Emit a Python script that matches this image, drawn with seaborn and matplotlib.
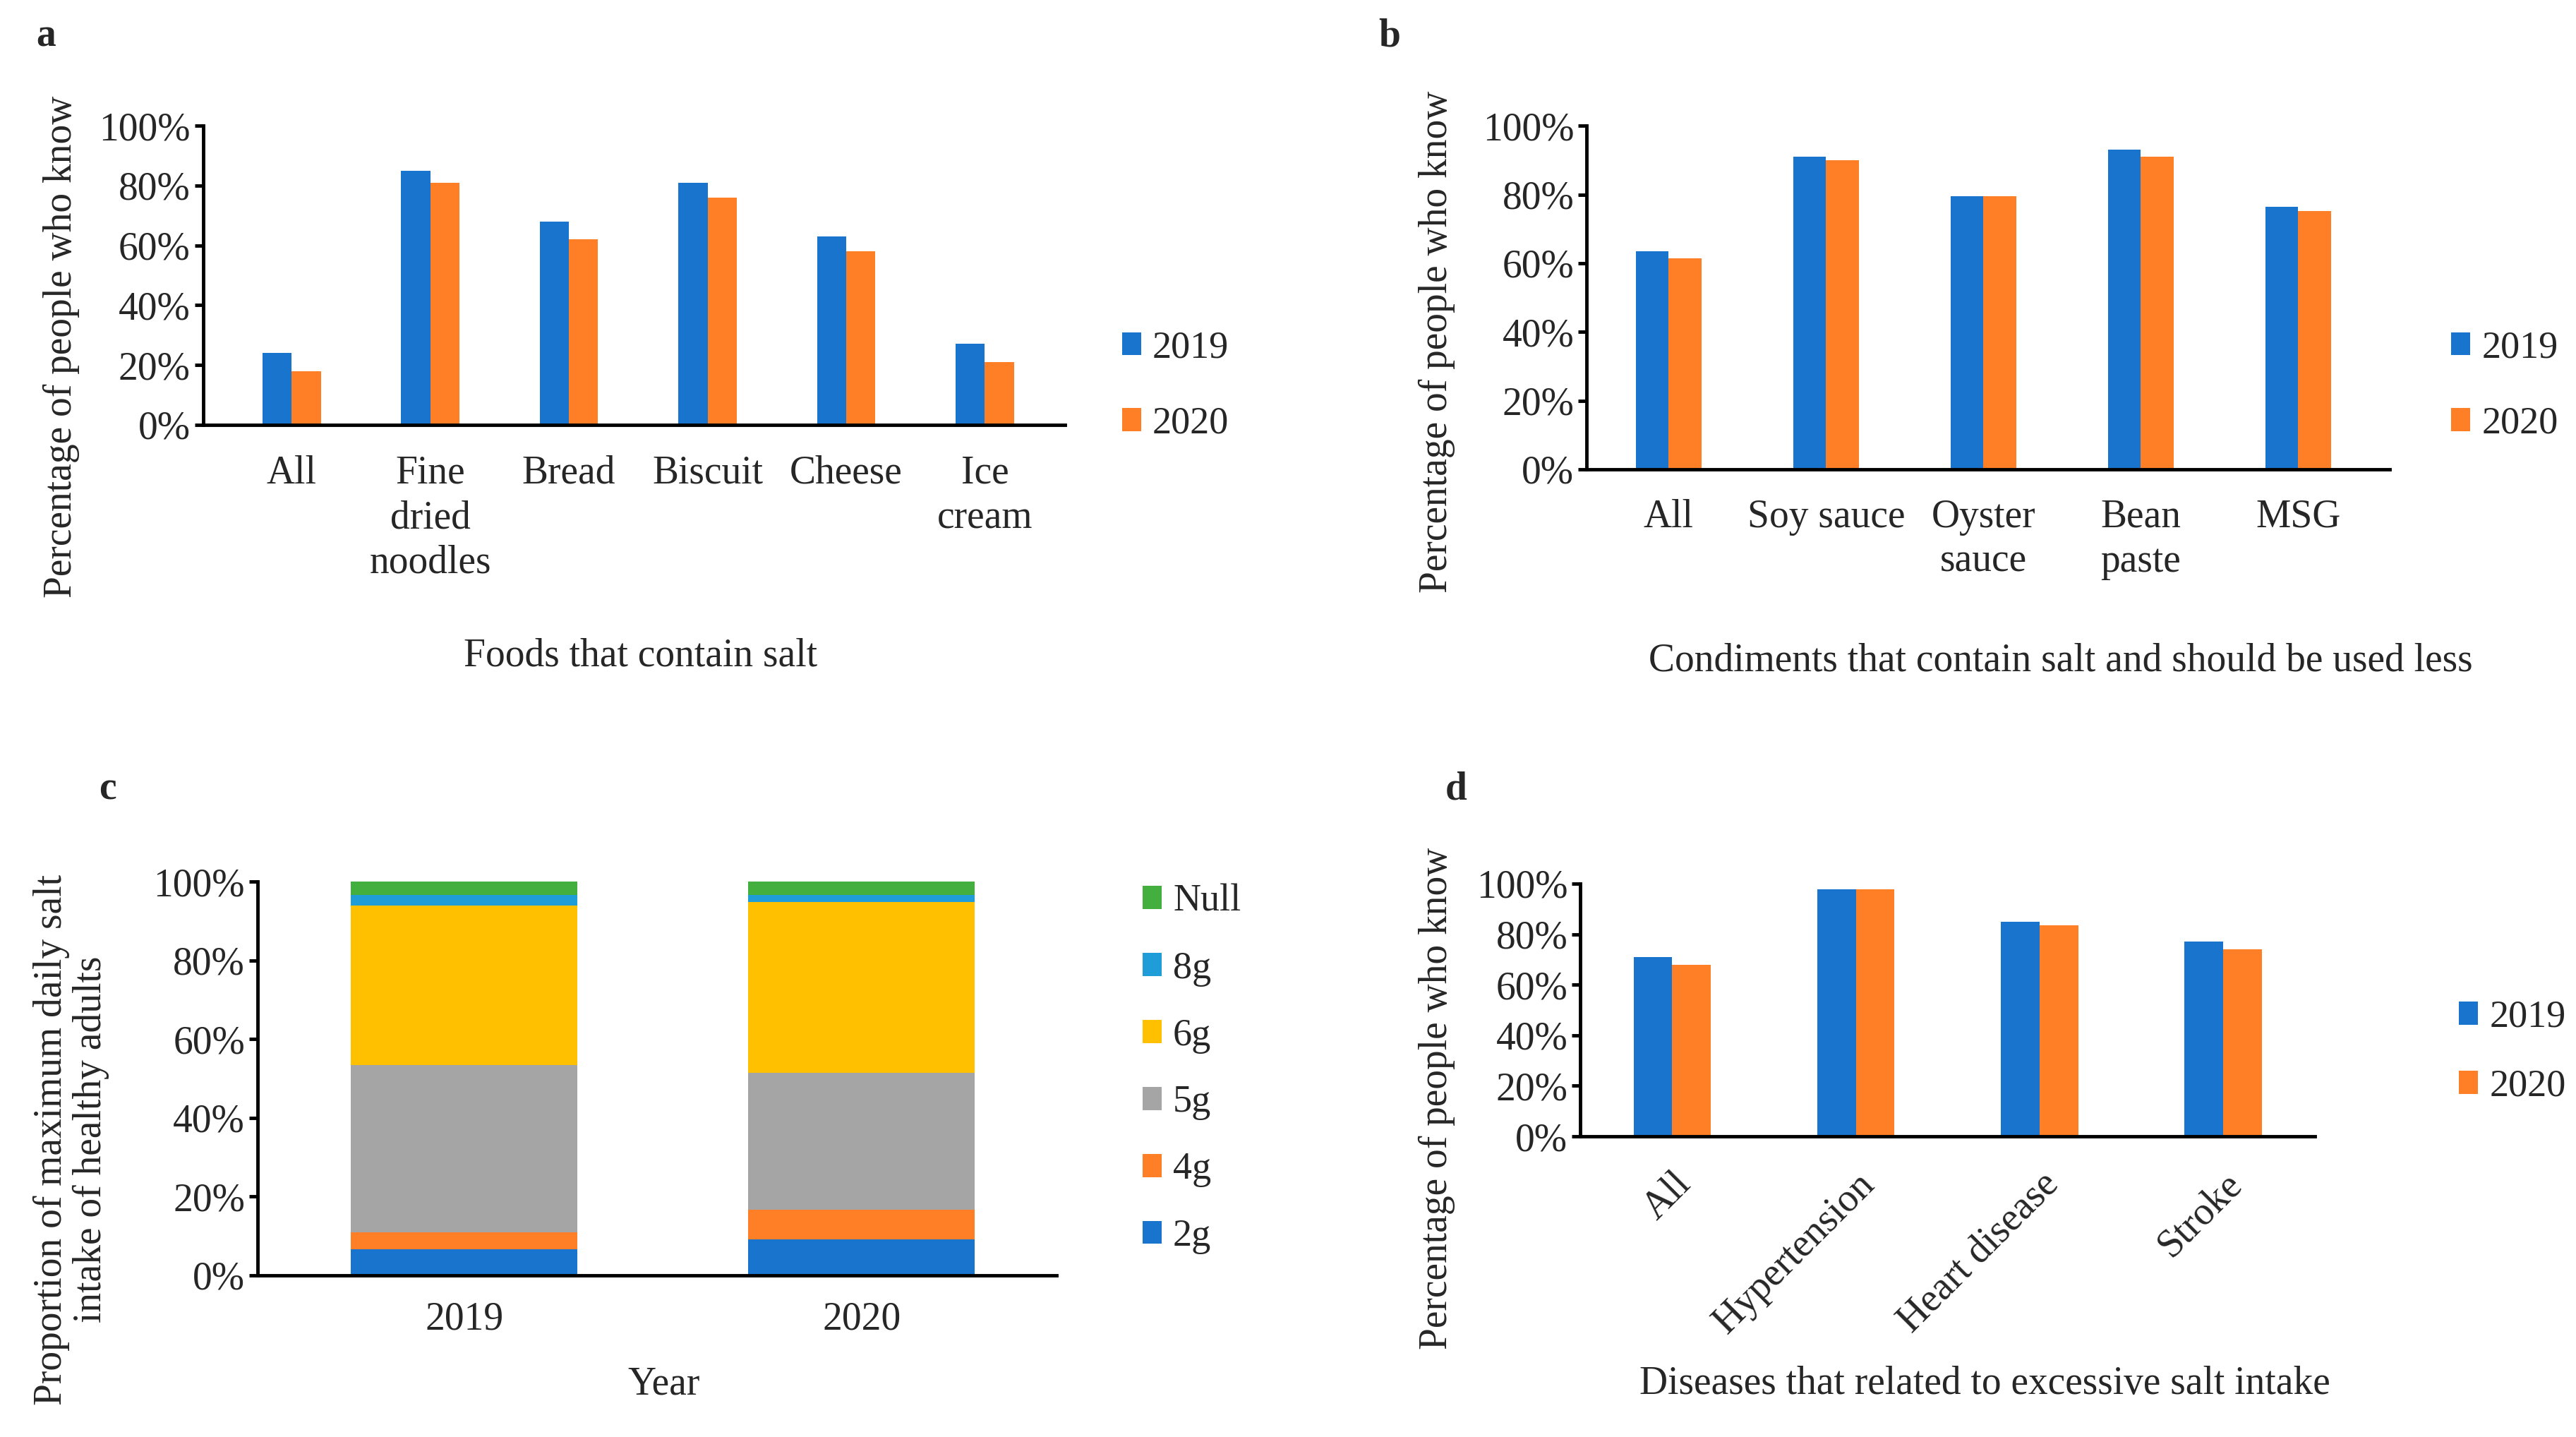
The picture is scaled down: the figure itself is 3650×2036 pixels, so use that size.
import matplotlib
matplotlib.use("Agg")
import matplotlib.pyplot as plt
from matplotlib.patches import Patch
import seaborn as sns
import numpy as np
import pandas as pd

sns.set_theme(style="white")
plt.rcParams['font.family'] = ['Liberation Serif', 'DejaVu Serif']

# -------------------------------
# Data
# -------------------------------
years = ["2019", "2020"]

foods = ["All", "Fine\ndried\nnoodles", "Bread", "Biscuit", "Cheese", "Ice\ncream"]
foods_2019 = [0.24, 0.85, 0.68, 0.81, 0.63, 0.27]
foods_2020 = [0.18, 0.81, 0.62, 0.76, 0.58, 0.21]

condiments = ["All", "Soy sauce", "Oyster\nsauce", "Bean\npaste", "MSG"]
cond_2019 = [0.635, 0.91, 0.795, 0.93, 0.765]
cond_2020 = [0.615, 0.90, 0.795, 0.91, 0.752]

salt_levels = ["2g", "4g", "5g", "6g", "8g", "Null"]
salt_2019 = [0.066, 0.044, 0.425, 0.404, 0.027, 0.034]
salt_2020 = [0.092, 0.074, 0.349, 0.433, 0.018, 0.034]

diseases = ["All", "Hypertension", "Heart disease", "Stroke"]
dis_2019 = [0.71, 0.977, 0.85, 0.77]
dis_2020 = [0.68, 0.977, 0.835, 0.74]

BLUE = "#1874CD"
ORANGE = "#FF7F27"
salt_colors = {"2g": BLUE, "4g": ORANGE, "5g": "#A5A5A5",
               "6g": "#FFC000", "8g": "#1E9DD8", "Null": "#43AF3E"}

FS = 40
LEG_FS = 39
LW = 3.5


def long_df(cats, v19, v20):
    return pd.DataFrame({
        "cat": cats * 2,
        "year": ["2019"] * len(cats) + ["2020"] * len(cats),
        "value": list(v19) + list(v20),
    })


def style_axis(ax, xpad=26):
    sns.despine(ax=ax)
    for s in ["left", "bottom"]:
        ax.spines[s].set_linewidth(LW)
        ax.spines[s].set_color("black")
    ax.set_ylim(0, 1)
    ticks = np.arange(0, 1.01, 0.2)
    ax.set_yticks(ticks)
    ax.set_yticklabels([f"{int(round(t * 100))}%" for t in ticks])
    ax.tick_params(axis="y", direction="out", length=9, width=LW, pad=4,
                   labelsize=FS, left=True, color="black")
    ax.tick_params(axis="x", length=0, pad=xpad, labelsize=FS)
    for lab in ax.get_xticklabels():
        lab.set_linespacing(1.28)
    ax.set_xlabel("")
    ax.set_ylabel("")
    ax.grid(False)


def year_legend(fig, x, y, spacing=1.05):
    handles = [Patch(facecolor=BLUE, edgecolor="none", label="2019"),
               Patch(facecolor=ORANGE, edgecolor="none", label="2020")]
    fig.legend(handles=handles, loc="center left", bbox_to_anchor=(x, y),
               frameon=False, fontsize=LEG_FS, handlelength=0.5, handleheight=0.55,
               handletextpad=0.3, labelspacing=spacing, borderpad=0, borderaxespad=0)


fig = plt.figure(figsize=(36.5, 20.36), dpi=100)

# =====================================================
# a  FOODS
# =====================================================
ax_a = fig.add_axes([0.0788, 0.7044, 0.3347, 0.2081])
sns.barplot(data=long_df(foods, foods_2019, foods_2020), x="cat", y="value",
            hue="year", palette=[BLUE, ORANGE], width=0.42, order=foods,
            ax=ax_a, legend=False, errorbar=None, linewidth=0, saturation=1)
ax_a.set_xlim(-0.64, 5.58)
style_axis(ax_a, xpad=31)
year_legend(fig, 0.4355, 0.7315)
fig.text(0.0237, 0.7586, "Percentage of people who know", rotation=90,
         ha="center", va="center", fontsize=FS)
fig.text(0.2487, 0.5437, "Foods that contain salt", ha="center", va="center", fontsize=FS)
fig.text(0.0141, 0.9747, "a", ha="left", va="center", fontsize=FS, fontweight="bold")

# =====================================================
# b  CONDIMENTS
# =====================================================
ax_b = fig.add_axes([0.616, 0.6734, 0.3116, 0.2391])
sns.barplot(data=long_df(condiments, cond_2019, cond_2020), x="cat", y="value",
            hue="year", palette=[BLUE, ORANGE], width=0.42, order=condiments,
            ax=ax_b, legend=False, errorbar=None, linewidth=0, saturation=1)
ax_b.set_xlim(-0.52, 4.58)
style_axis(ax_b, xpad=30)
year_legend(fig, 0.9515, 0.7315)
fig.text(0.5577, 0.762, "Percentage of people who know", rotation=90,
         ha="center", va="center", fontsize=FS)
fig.text(0.80, 0.540, "Condiments that contain salt and should be used less",
         ha="center", va="center", fontsize=FS)
fig.text(0.535, 0.9747, "b", ha="left", va="center", fontsize=FS, fontweight="bold")

# =====================================================
# c  STACKED SALT INTAKE
# =====================================================
ax_c = fig.add_axes([0.10, 0.1125, 0.31, 0.2738])
cum19 = np.cumsum(salt_2019)
cum20 = np.cumsum(salt_2020)
# draw cumulative totals from the top down so each level covers the one above
for i in range(len(salt_levels) - 1, -1, -1):
    lvl = salt_levels[i]
    sdf = pd.DataFrame({"year": years, "value": [cum19[i], cum20[i]]})
    sns.barplot(data=sdf, x="year", y="value", order=years, color=salt_colors[lvl],
                width=0.57, ax=ax_c, errorbar=None, linewidth=0, saturation=1)
ax_c.set_xlim(-0.52, 1.49)
style_axis(ax_c, xpad=26)
handles = [Patch(facecolor=salt_colors[l], edgecolor="none", label=l)
           for l in salt_levels[::-1]]
fig.legend(handles=handles, loc="center left", bbox_to_anchor=(0.4435, 0.256),
           frameon=False, fontsize=LEG_FS, handlelength=0.5, handleheight=0.55,
           handletextpad=0.3, labelspacing=0.82, borderpad=0, borderaxespad=0)
fig.text(0.0276, 0.207, "Proportion of maximum daily salt\nintake of healthy adults",
         rotation=90, ha="center", va="center", fontsize=FS, linespacing=1.1)
fig.text(0.2577, 0.0368, "Year", ha="center", va="center", fontsize=FS)
fig.text(0.0385, 0.4506, "c", ha="left", va="center", fontsize=FS, fontweight="bold")

# =====================================================
# d  DISEASES
# =====================================================
ax_d = fig.add_axes([0.6135, 0.2092, 0.2852, 0.1759])
sns.barplot(data=long_df(diseases, dis_2019, dis_2020), x="cat", y="value",
            hue="year", palette=[BLUE, ORANGE], width=0.42, order=diseases,
            ax=ax_d, legend=False, errorbar=None, linewidth=0, saturation=1)
ax_d.set_xlim(-0.5, 3.5)
style_axis(ax_d, xpad=30)
for lab in ax_d.get_xticklabels():
    lab.set_rotation(45)
    lab.set_ha("right")
    lab.set_rotation_mode("anchor")
year_legend(fig, 0.9545, 0.268, spacing=0.88)
fig.text(0.5577, 0.2356, "Percentage of people who know", rotation=90,
         ha="center", va="center", fontsize=FS)
fig.text(0.7705, 0.0368, "Diseases that related to excessive salt intake",
         ha="center", va="center", fontsize=FS)
fig.text(0.561, 0.4506, "d", ha="left", va="center", fontsize=FS, fontweight="bold")

fig.savefig("out.png", dpi=100, facecolor="white")
plt.close(fig)
print("saved")
